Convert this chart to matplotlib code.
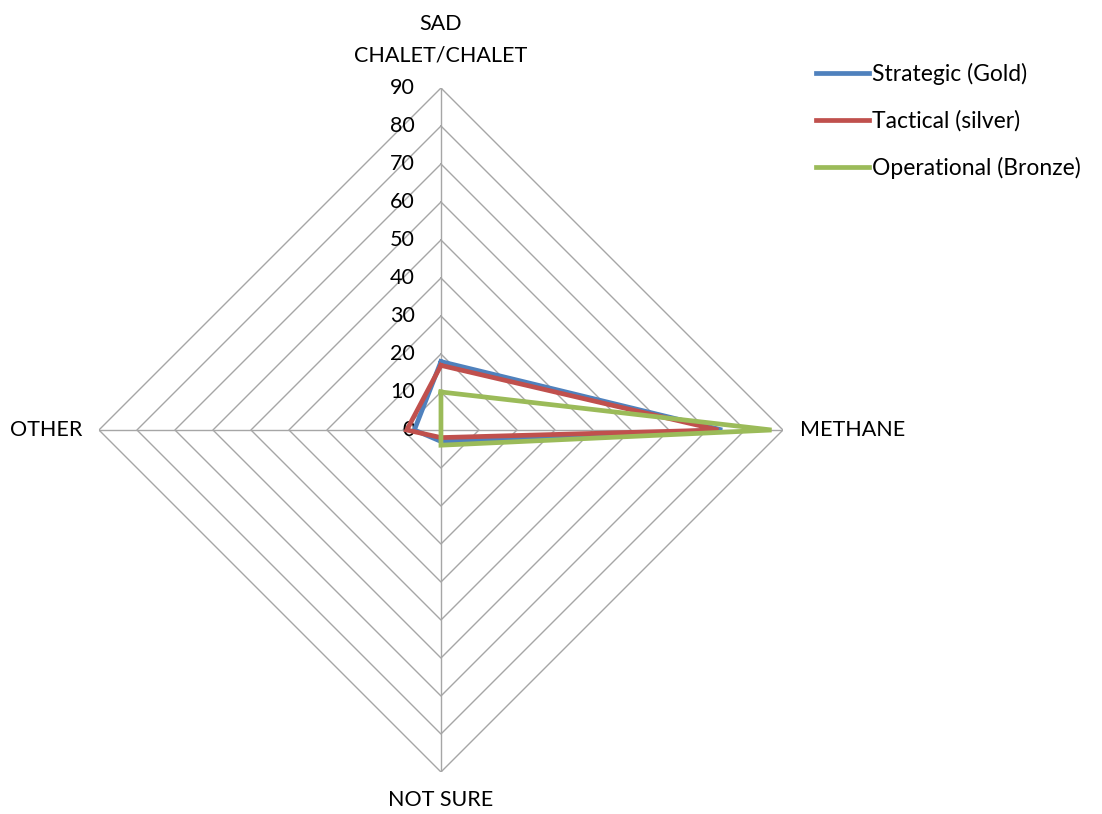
import numpy as np
import matplotlib
matplotlib.use("Agg")
import matplotlib.pyplot as plt

plt.rcParams['font.family'] = ['Lato', 'DejaVu Sans']

categories = ["SAD\nCHALET/CHALET", "METHANE", "NOT SURE", "OTHER"]
series_names = ["Strategic (Gold)", "Tactical (silver)", "Operational (Bronze)"]
strategic = [18, 74, 3, 7]
tactical = [17, 73, 2, 9]
operational = [10, 87, 4, 0]
ticks = [0, 10, 20, 30, 40, 50, 60, 70, 80, 90]
colors = ["#4F81BD", "#C0504D", "#9BBB59"]

angles = np.linspace(0, 2 * np.pi, len(categories), endpoint=False)
closed = np.append(angles, angles[0])

fig = plt.figure(figsize=(11.02, 8.14), dpi=100)
ax = fig.add_axes([0.0898, 0.0516, 0.6207, 0.8403], projection='polar')
ax.set_theta_offset(np.pi / 2)
ax.set_theta_direction(-1)
ax.set_ylim(0, 90)
ax.grid(False)
ax.spines['polar'].set_visible(False)
ax.set_xticks([])
ax.set_yticks([])

# diamond grid
for r in ticks[1:]:
    ax.plot(closed, [r] * len(closed), color="#A6A6A6", lw=1, zorder=1)
for a in angles:
    ax.plot([a, a], [0, 90], color="#A6A6A6", lw=1, zorder=1)

fs = 15.5
# tick labels along top axis
for t in ticks:
    ax.annotate(str(t), xy=(0, t), xytext=(-19, 0), textcoords='offset points',
                ha='right', va='center', fontsize=fs, color="#000000")

# category labels
ax.annotate(categories[0], xy=(0, 90), xytext=(0, 16), textcoords='offset points',
            ha='center', va='bottom', fontsize=fs, multialignment='center', linespacing=1.75)
ax.annotate(categories[1], xy=(angles[1], 90), xytext=(12, 0), textcoords='offset points',
            ha='left', va='center', fontsize=fs)
ax.annotate(categories[2], xy=(angles[2], 90), xytext=(0, -20), textcoords='offset points',
            ha='center', va='center', fontsize=fs)
ax.annotate(categories[3], xy=(angles[3], 90), xytext=(-12, 0), textcoords='offset points',
            ha='right', va='center', fontsize=fs)

for name, vals, c in zip(series_names, [strategic, tactical, operational], colors):
    ax.plot(closed, vals + vals[:1], color=c, lw=3.4, label=name, zorder=3,
            solid_joinstyle='miter')

handles, labels = ax.get_legend_handles_labels()
fig.legend(handles, labels, loc='upper left', bbox_to_anchor=(0.722, 0.948),
           frameon=False, fontsize=16.5, handlelength=2.3, handletextpad=0.15,
           labelspacing=1.1)

fig.savefig("out.png", dpi=100)
